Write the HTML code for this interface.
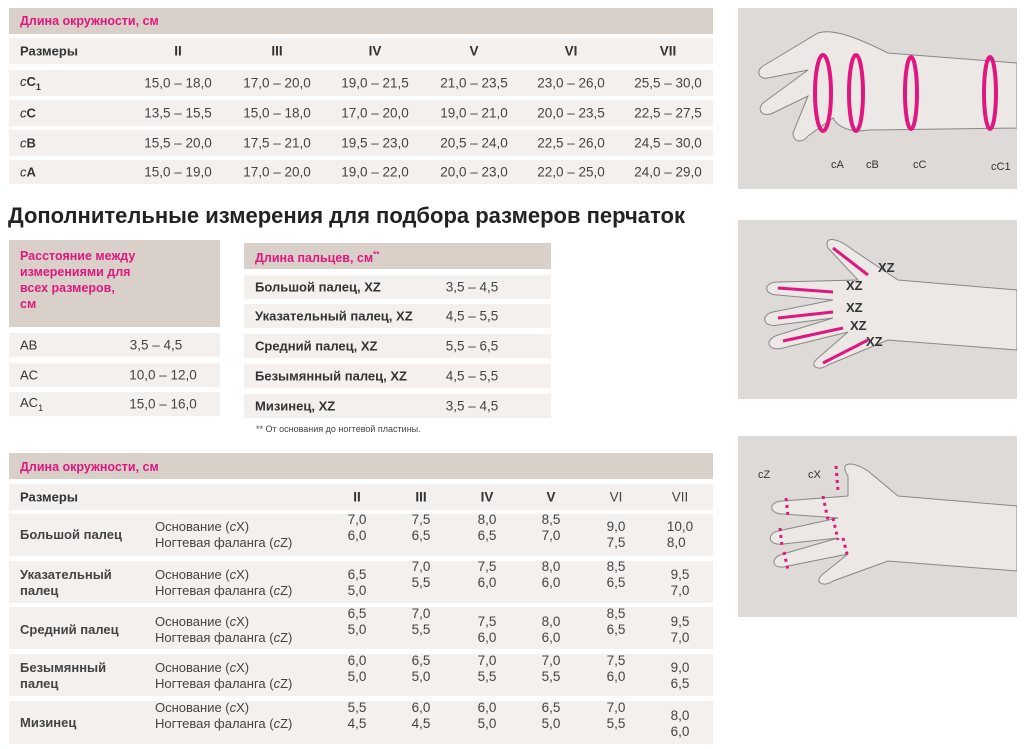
<!DOCTYPE html>
<html><head><meta charset="utf-8"><style>
body{margin:0;width:1024px;height:749px;background:#fff;position:relative;font-family:"Liberation Sans","DejaVu Sans",sans-serif;color:#333;overflow:hidden}
.a{position:absolute}
.b{position:absolute;background:#f4f0ed}
.h{position:absolute;background:#d9d0c9}
.p{color:#e0177f;font-weight:bold;font-size:12.5px}
.c{position:absolute;transform:translate(-50%,-50%);font-size:13.5px;color:#444;white-space:nowrap}
.l{position:absolute;transform:translateY(-50%);font-size:13px;white-space:nowrap}
.bd{font-weight:bold;color:#333}
.s{position:absolute;transform:translateY(-50%);font-size:13px;color:#444;white-space:nowrap;line-height:16px}
</style></head><body>
<!-- top table -->
<div class="h" style="left:9px;top:8px;width:704px;height:26px"></div>
<div class="a p" style="left:20px;top:14px">Длина окружности, см</div>
<div class="b" style="left:9px;top:38px;width:704px;height:26px"></div>
<div class="b" style="left:9px;top:70px;width:704px;height:26px"></div>
<div class="b" style="left:9px;top:100px;width:704px;height:26px"></div>
<div class="b" style="left:9px;top:130px;width:704px;height:26px"></div>
<div class="b" style="left:9px;top:160px;width:704px;height:24px"></div>
<div class="l bd" style="left:20px;top:51px">Размеры</div>
<div class="c bd" style="left:178px;top:51px">II</div><div class="c bd" style="left:277px;top:51px">III</div><div class="c bd" style="left:375px;top:51px">IV</div><div class="c bd" style="left:474px;top:51px">V</div><div class="c bd" style="left:571px;top:51px">VI</div><div class="c bd" style="left:668px;top:51px">VII</div>
<div class="l bd" style="left:20px;top:83px"><i style="font-weight:normal">c</i>C<sub style="font-size:9px">1</sub></div>
<div class="l bd" style="left:20px;top:113px"><i style="font-weight:normal">c</i>C</div>
<div class="l bd" style="left:20px;top:143px"><i style="font-weight:normal">c</i>B</div>
<div class="l bd" style="left:20px;top:172px"><i style="font-weight:normal">c</i>A</div>
<div class="c" style="left:178px;top:83px">15,0 – 18,0</div><div class="c" style="left:277px;top:83px">17,0 – 20,0</div><div class="c" style="left:375px;top:83px">19,0 – 21,5</div><div class="c" style="left:474px;top:83px">21,0 – 23,5</div><div class="c" style="left:571px;top:83px">23,0 – 26,0</div><div class="c" style="left:668px;top:83px">25,5 – 30,0</div>
<div class="c" style="left:178px;top:113px">13,5 – 15,5</div><div class="c" style="left:277px;top:113px">15,0 – 18,0</div><div class="c" style="left:375px;top:113px">17,0 – 20,0</div><div class="c" style="left:474px;top:113px">19,0 – 21,0</div><div class="c" style="left:571px;top:113px">20,0 – 23,5</div><div class="c" style="left:668px;top:113px">22,5 – 27,5</div>
<div class="c" style="left:178px;top:143px">15,5 – 20,0</div><div class="c" style="left:277px;top:143px">17,5 – 21,0</div><div class="c" style="left:375px;top:143px">19,5 – 23,0</div><div class="c" style="left:474px;top:143px">20,5 – 24,0</div><div class="c" style="left:571px;top:143px">22,5 – 26,0</div><div class="c" style="left:668px;top:143px">24,5 – 30,0</div>
<div class="c" style="left:178px;top:172px">15,0 – 19,0</div><div class="c" style="left:277px;top:172px">17,0 – 20,0</div><div class="c" style="left:375px;top:172px">19,0 – 22,0</div><div class="c" style="left:474px;top:172px">20,0 – 23,0</div><div class="c" style="left:571px;top:172px">22,0 – 25,0</div><div class="c" style="left:668px;top:172px">24,0 – 29,0</div>

<div class="a" style="left:8px;top:203px;font-size:22px;font-weight:bold;color:#222">Дополнительные измерения для подбора размеров перчаток</div>

<!-- left small -->
<div class="h" style="left:9px;top:240px;width:211px;height:87px"></div>
<div class="a p" style="left:20px;top:248px;line-height:16px">Расстояние между<br>измерениями для<br>всех размеров,<br>см</div>
<div class="b" style="left:9px;top:333px;width:211px;height:24px"></div>
<div class="b" style="left:9px;top:363px;width:211px;height:24px"></div>
<div class="b" style="left:9px;top:392px;width:211px;height:24px"></div>
<div class="l" style="left:20px;top:345px">AB</div><div class="c" style="left:156px;top:345px">3,5 – 4,5</div>
<div class="l" style="left:20px;top:375px">AC</div><div class="c" style="left:163px;top:375px">10,0 – 12,0</div>
<div class="l" style="left:20px;top:404px">AC<sub style="font-size:9px">1</sub></div><div class="c" style="left:163px;top:404px">15,0 – 16,0</div>

<!-- middle table -->
<div class="h" style="left:244px;top:243px;width:307px;height:26px"></div>
<div class="a p" style="left:255px;top:250px">Длина пальцев, см<sup style="font-size:8px">**</sup></div>
<div class="b" style="left:244px;top:275px;width:307px;height:24px"></div>
<div class="b" style="left:244px;top:304px;width:307px;height:24px"></div>
<div class="b" style="left:244px;top:334px;width:307px;height:24px"></div>
<div class="b" style="left:244px;top:364px;width:307px;height:24px"></div>
<div class="b" style="left:244px;top:394px;width:307px;height:24px"></div>
<div class="l bd" style="left:255px;top:287px">Большой палец, XZ</div><div class="c" style="left:472px;top:287px">3,5 – 4,5</div>
<div class="l bd" style="left:255px;top:316px">Указательный палец, XZ</div><div class="c" style="left:472px;top:316px">4,5 – 5,5</div>
<div class="l bd" style="left:255px;top:346px">Средний палец, XZ</div><div class="c" style="left:472px;top:346px">5,5 – 6,5</div>
<div class="l bd" style="left:255px;top:376px">Безымянный палец, XZ</div><div class="c" style="left:472px;top:376px">4,5 – 5,5</div>
<div class="l bd" style="left:255px;top:406px">Мизинец, XZ</div><div class="c" style="left:472px;top:406px">3,5 – 4,5</div>
<div class="a" style="left:256px;top:424px;font-size:9px;color:#444">** От основания до ногтевой пластины.</div>

<!-- bottom table -->
<div class="h" style="left:9px;top:453px;width:704px;height:26px"></div>
<div class="a p" style="left:20px;top:460px">Длина окружности, см</div>
<div class="b" style="left:9px;top:484px;width:704px;height:26px"></div>
<div class="b" style="left:9px;top:514px;width:704px;height:42px"></div>
<div class="b" style="left:9px;top:561px;width:704px;height:42px"></div>
<div class="b" style="left:9px;top:607px;width:704px;height:42px"></div>
<div class="b" style="left:9px;top:654px;width:704px;height:42px"></div>
<div class="b" style="left:9px;top:701px;width:704px;height:43px"></div>
<div class="l bd" style="left:20px;top:497px">Размеры</div>
<div class="c bd" style="left:357px;top:497px">II</div><div class="c bd" style="left:421px;top:497px">III</div><div class="c bd" style="left:487px;top:497px">IV</div><div class="c bd" style="left:551px;top:497px">V</div><div class="c" style="left:616px;top:497px">VI</div><div class="c" style="left:680px;top:497px">VII</div>

<div class="s bd" style="left:20px;top:535px">Большой палец</div>
<div class="s bd" style="left:20px;top:583px">Указательный<br>палец</div>
<div class="s bd" style="left:20px;top:630px">Средний палец</div>
<div class="s bd" style="left:20px;top:676px">Безымянный<br>палец</div>
<div class="s bd" style="left:20px;top:723px">Мизинец</div>
<div class="s" style="left:155px;top:535px">Основание (<i>c</i>X)<br>Ногтевая фаланга (<i>c</i>Z)</div>
<div class="s" style="left:155px;top:583px">Основание (<i>c</i>X)<br>Ногтевая фаланга (<i>c</i>Z)</div>
<div class="s" style="left:155px;top:630px">Основание (<i>c</i>X)<br>Ногтевая фаланга (<i>c</i>Z)</div>
<div class="s" style="left:155px;top:676px">Основание (<i>c</i>X)<br>Ногтевая фаланга (<i>c</i>Z)</div>
<div class="s" style="left:155px;top:716px">Основание (<i>c</i>X)<br>Ногтевая фаланга (<i>c</i>Z)</div>

<div class="c" style="left:357px;top:528px;line-height:16px">7,0<br>6,0</div><div class="c" style="left:421px;top:528px;line-height:16px">7,5<br>6,5</div><div class="c" style="left:487px;top:528px;line-height:16px">8,0<br>6,5</div><div class="c" style="left:551px;top:528px;line-height:16px">8,5<br>7,0</div><div class="c" style="left:616px;top:535px;line-height:16px">9,0<br>7,5</div><div class="c" style="left:680px;top:535px;line-height:16px">10,0<br>8,0</div>
<div class="c" style="left:357px;top:583px;line-height:16px">6,5<br>5,0</div><div class="c" style="left:421px;top:575px;line-height:16px">7,0<br>5,5</div><div class="c" style="left:487px;top:575px;line-height:16px">7,5<br>6,0</div><div class="c" style="left:551px;top:575px;line-height:16px">8,0<br>6,0</div><div class="c" style="left:616px;top:575px;line-height:16px">8,5<br>6,5</div><div class="c" style="left:680px;top:583px;line-height:16px">9,5<br>7,0</div>
<div class="c" style="left:357px;top:622px;line-height:16px">6,5<br>5,0</div><div class="c" style="left:421px;top:622px;line-height:16px">7,0<br>5,5</div><div class="c" style="left:487px;top:630px;line-height:16px">7,5<br>6,0</div><div class="c" style="left:551px;top:630px;line-height:16px">8,0<br>6,0</div><div class="c" style="left:616px;top:622px;line-height:16px">8,5<br>6,5</div><div class="c" style="left:680px;top:630px;line-height:16px">9,5<br>7,0</div>
<div class="c" style="left:357px;top:669px;line-height:16px">6,0<br>5,0</div><div class="c" style="left:421px;top:669px;line-height:16px">6,5<br>5,0</div><div class="c" style="left:487px;top:669px;line-height:16px">7,0<br>5,5</div><div class="c" style="left:551px;top:669px;line-height:16px">7,0<br>5,5</div><div class="c" style="left:616px;top:669px;line-height:16px">7,5<br>6,0</div><div class="c" style="left:680px;top:676px;line-height:16px">9,0<br>6,5</div>
<div class="c" style="left:357px;top:716px;line-height:16px">5,5<br>4,5</div><div class="c" style="left:421px;top:716px;line-height:16px">6,0<br>4,5</div><div class="c" style="left:487px;top:716px;line-height:16px">6,0<br>5,0</div><div class="c" style="left:551px;top:716px;line-height:16px">6,5<br>5,0</div><div class="c" style="left:616px;top:716px;line-height:16px">7,0<br>5,5</div><div class="c" style="left:680px;top:724px;line-height:16px">8,0<br>6,0</div>

<!-- image panels -->
<svg class="a" style="left:738px;top:8px" width="279" height="181" viewBox="0 0 279 181">
<rect width="279" height="181" fill="#dedad7"/>
<path d="M279 55 L150 45 C120 30 95 20 80 25 L25 58 C18 62 20 72 30 70 L70 62 L25 95 C18 102 25 110 35 105 L70 88 L55 125 C55 135 65 135 70 128 L95 110 C100 120 115 125 130 122 L279 120 Z" fill="#ebe8e6" stroke="#888" stroke-width="1"/>
<g fill="none" stroke="#e0177f" stroke-width="4"><ellipse cx="85" cy="85" rx="8" ry="38"/><ellipse cx="118" cy="85" rx="7" ry="38"/><ellipse cx="173" cy="85" rx="6" ry="36"/><ellipse cx="252" cy="85" rx="6" ry="36"/></g>
<g font-size="11" fill="#333"><text x="93" y="160">cA</text><text x="128" y="160">cB</text><text x="175" y="160">cC</text><text x="253" y="162">cC1</text></g>
</svg>
<svg class="a" style="left:738px;top:220px" width="279" height="179" viewBox="0 0 279 179">
<rect width="279" height="179" fill="#dedad7"/>
<path d="M279 70 L160 60 L115 30 C100 18 85 15 90 28 L120 60 L40 62 C25 62 25 75 40 75 L95 80 L35 92 C22 95 25 108 40 105 L95 98 L40 115 C25 120 30 132 45 128 L110 112 L80 138 C70 146 80 152 90 145 L150 120 L279 130 Z" fill="#ebe8e6" stroke="#888"/>
<g stroke="#e0177f" stroke-width="3" fill="none"><line x1="95" y1="28" x2="130" y2="55"/><line x1="40" y1="68" x2="95" y2="72"/><line x1="40" y1="98" x2="95" y2="92"/><line x1="45" y1="121" x2="105" y2="108"/><line x1="85" y1="143" x2="130" y2="120"/></g>
<g font-size="13" font-weight="bold" fill="#333"><text x="140" y="52">XZ</text><text x="108" y="70">XZ</text><text x="108" y="92">XZ</text><text x="112" y="110">XZ</text><text x="128" y="126">XZ</text></g>
</svg>
<svg class="a" style="left:738px;top:436px" width="279" height="181" viewBox="0 0 279 181">
<rect width="279" height="181" fill="#dedad7"/>
<path d="M279 70 L160 60 L130 35 C115 25 100 25 110 40 L110 60 L45 65 C30 65 30 78 45 78 L100 82 L40 95 C28 98 30 110 45 108 L100 102 L45 118 C30 122 35 135 50 130 L110 118 L85 138 C75 146 85 152 95 145 L150 125 L279 135 Z" fill="#ebe8e6" stroke="#888"/>
<g stroke="#e0177f" stroke-width="3" fill="none" stroke-dasharray="3 4"><path d="M98 30 L100 55 M48 62 L50 80 M85 60 L90 84 M42 92 L44 110 M95 82 L100 104 M46 116 L50 134 M105 102 L110 122"/></g>
<g font-size="11" fill="#333"><text x="20" y="42">cZ</text><text x="70" y="42">cX</text></g>
</svg>
</body></html>
